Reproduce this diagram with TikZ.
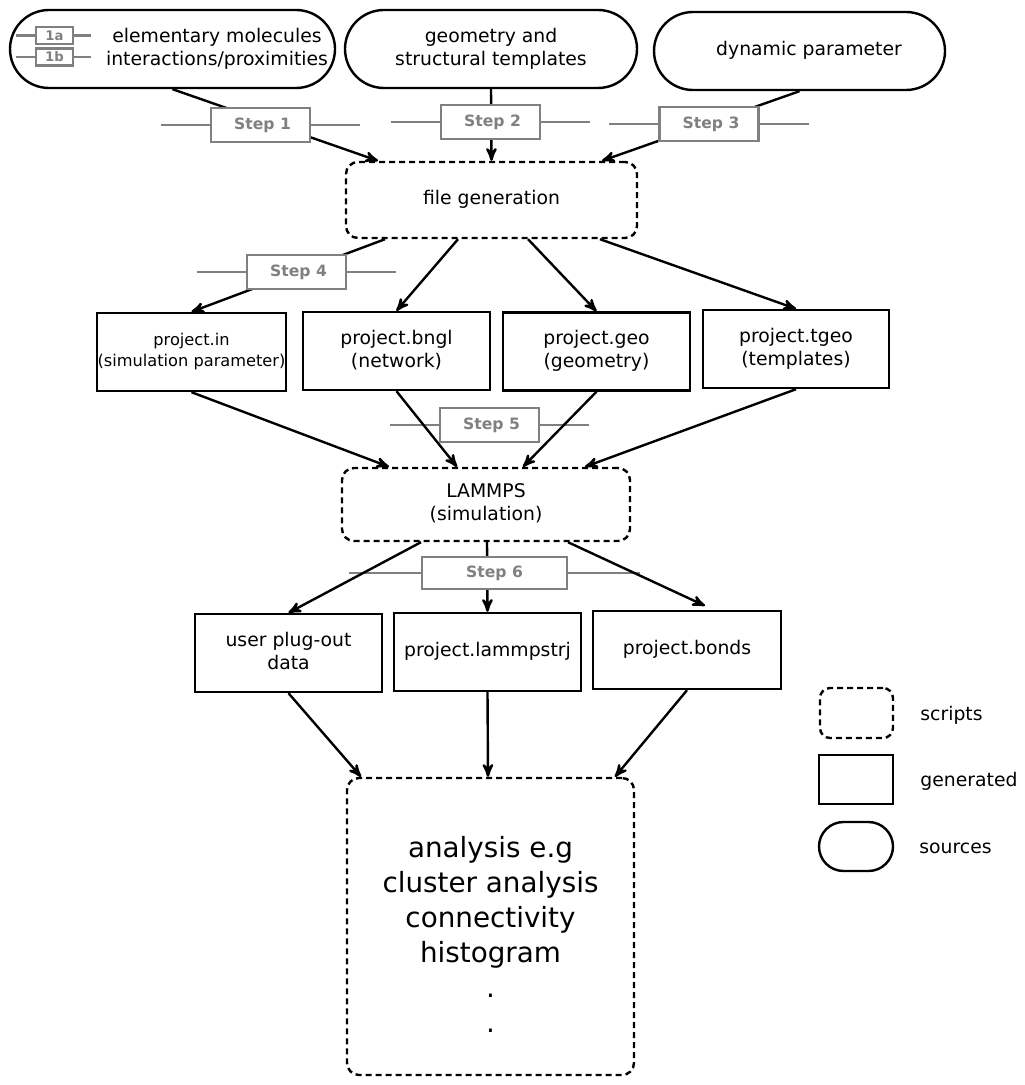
\documentclass[tikz,border=0pt]{standalone}
\usepackage{fontspec}
\setmainfont{DejaVu Sans}
\usetikzlibrary{arrows}
\usetikzlibrary{calc}
\pgfdeclarelayer{background}
\pgfsetlayers{background,main}
\newcommand\lift[2]{\raisebox{#1}{\begin{tabular}{@{}c@{}}#2\end{tabular}}}
\tikzset{x=0.5pt, y=-0.5pt, % one unit is one pixel of the sketch
      every node/.style={ % Text of all nodes
      font=\fontsize{9.4}{11.5}\selectfont,
      align=center, inner sep=0pt},
      source/.style={draw, line width=1.2pt, rounded corners=19.5pt, minimum height=39pt},
      script/.style={draw, line width=1.2pt, dash pattern=on 3pt off 2pt, rounded corners=6pt},
      generated/.style={draw, line width=1.2pt, minimum height=39pt},
      stepbox/.style={draw=gray, fill=white, line width=1.1pt, text=gray,
      font=\fontsize{7.8}{9}\selectfont\bfseries, minimum width=49.5pt, minimum height=17pt},
      substep/.style={draw=gray, fill=white, line width=1.1pt, text=gray,
      font=\fontsize{6.6}{7}\selectfont\bfseries, minimum width=18.5pt, minimum height=8.5pt},
      stepline/.style={draw=gray, line width=1.1pt},
      flow/.style={ % Sets the properties for each connector
      draw, ->, >=stealth', line width=1.2pt}}

\begin{document}
\begin{tikzpicture}
      \useasboundingbox (0,0) rectangle (1024,1085);
      % sources
      \node[source, minimum width=162.5pt] (src1) at (172.5,49) {};
      \node (src1txt) at (217,48.5) {elementary molecules\\interactions/proximities};
      \node[source, minimum width=146pt] (src2) at (491,49) {\lift{-1pt}{geometry and\\structural templates}};
      \node[source, minimum width=145.5pt] (src3) at (799.5,51) {};
      \node (src3txt) at (809,50) {dynamic parameter};
      \node[substep] (s1a) at (54.5,35.5) {1a};
      \node[substep] (s1b) at (54.5,57) {1b};
      % scripts and generated files
      \node[script, minimum width=145.5pt, minimum height=38pt] (gen) at (491.5,200) {\lift{3pt}{file generation}};
      \node[generated, minimum width=94.5pt, font=\fontsize{8.1}{10.5}\selectfont] (pin) at (191.5,352) {\lift{-2.7pt}{project.in\\(simulation parameter)}};
      \node[generated, minimum width=93.5pt] (bngl) at (396.5,351) {\lift{-2.7pt}{project.bngl\\(network)}};
      \node[generated, minimum width=93.5pt] (geo) at (596.5,351.5) {\lift{-3pt}{project.geo\\(geometry)}};
      \node[generated, minimum width=93pt] (tgeo) at (796,349) {\lift{-3pt}{project.tgeo\\(templates)}};
      \node[script, minimum width=144pt, minimum height=36.5pt] (lmp) at (486,504.5) {\lift{-3pt}{LAMMPS\\(simulation)}};
      \node[generated, minimum width=93.5pt] (plug) at (288.5,653) {\lift{-3pt}{user plug-out\\data}};
      \node[generated, minimum width=93.5pt] (traj) at (487.5,652) {\lift{3pt}{project.lammpstrj}};
      \node[generated, minimum width=94pt] (bonds) at (687,650) {\lift{3pt}{project.bonds}};
      \node[script, minimum width=143.5pt, minimum height=148.5pt] (ana) at (490.5,926.5) {};
      \node[font=\fontsize{13.9}{17.5}\selectfont] (anatxt) at (490.5,934.5)
            {analysis e.g\\cluster analysis\\connectivity\\histogram\\.\\.};
      % legend
      \node[script, rounded corners=5pt, minimum width=36.5pt, minimum height=25pt] (legscr) at (856.5,713) {};
      \node[generated, minimum width=37pt, minimum height=24.5pt] (leggen) at (856,779.5) {};
      \node[source, rounded corners=12.25pt, minimum width=37pt, minimum height=24.5pt] (legsrc) at (856,846.5) {};
      \node[anchor=west] (legscrtxt) at (920,715) {scripts};
      \node[anchor=west] (leggentxt) at (920,781) {generated};
      \node[anchor=west] (legsrctxt) at (919,848) {sources};
      % step markers
      \node[stepbox] (s1) at (260.5,125) {\hspace{2pt}Step 1};
      \node[stepbox] (s2) at (490.5,122) {\hspace{2pt}Step 2};
      \node[stepbox] (s3) at (709,124) {\hspace{2pt}Step 3};
      \node[stepbox] (s4) at (296.5,272) {\hspace{2pt}Step 4};
      \node[stepbox] (s5) at (489.5,425) {\hspace{2pt}Step 5};
      \node[stepbox, minimum width=72.5pt, minimum height=16pt] (s6) at (494.5,573) {Step 6};
      \begin{pgfonlayer}{background}
      \foreach \s/\l in {s1/49,s2/49,s3/49,s4/49,s5/49,s6/72}
            \draw[stepline] ($(\s.west)-(\l,0)$) -- ($(\s.east)+(\l,0)$);
      \foreach \s in {s1a,s1b}
            \draw[stepline] ($(\s.west)-(19,0)$) -- ($(\s.east)+(17,0)$);
      % connectors
      \draw[flow] (src1.south) -- ($(gen.north)+(-113.5,0)$);
      \draw[flow] (src2.south) -- (gen.north);
      \draw[flow] (src3.south) -- ($(gen.north)+(110.5,0)$);
      \draw[flow] ($(gen.south)+(-106.5,0)$) -- (pin.north);
      \draw[flow] ($(gen.south)+(-33.5,0)$) -- (bngl.north);
      \draw[flow] ($(gen.south)+(36.5,0)$) -- (geo.north);
      \draw[flow] ($(gen.south)+(108.5,0)$) -- (tgeo.north);
      \draw[flow] (pin.south) -- ($(lmp.north)+(-97,0)$);
      \draw[flow] (bngl.south) -- ($(lmp.north)+(-29,0)$);
      \draw[flow] (geo.south) -- ($(lmp.north)+(37,0)$);
      \draw[flow] (tgeo.south) -- ($(lmp.north)+(99,0)$);
      \draw[flow] ($(lmp.south)+(-65,0)$) -- (plug.north);
      \draw[flow] ($(lmp.south)+(1,0)$) -- (traj.north);
      \draw[flow] ($(lmp.south)+(82,0)$) -- ($(bonds.north)+(18,-4)$);
      \draw[flow] (plug.south) -- ($(ana.north)+(-129.5,0)$);
      \draw[flow] (traj.south) -- ($(ana.north)+(-2.5,0)$);
      \draw[flow] (bonds.south) -- ($(ana.north)+(124.5,0)$);
      \end{pgfonlayer}
\end{tikzpicture}
\end{document}
